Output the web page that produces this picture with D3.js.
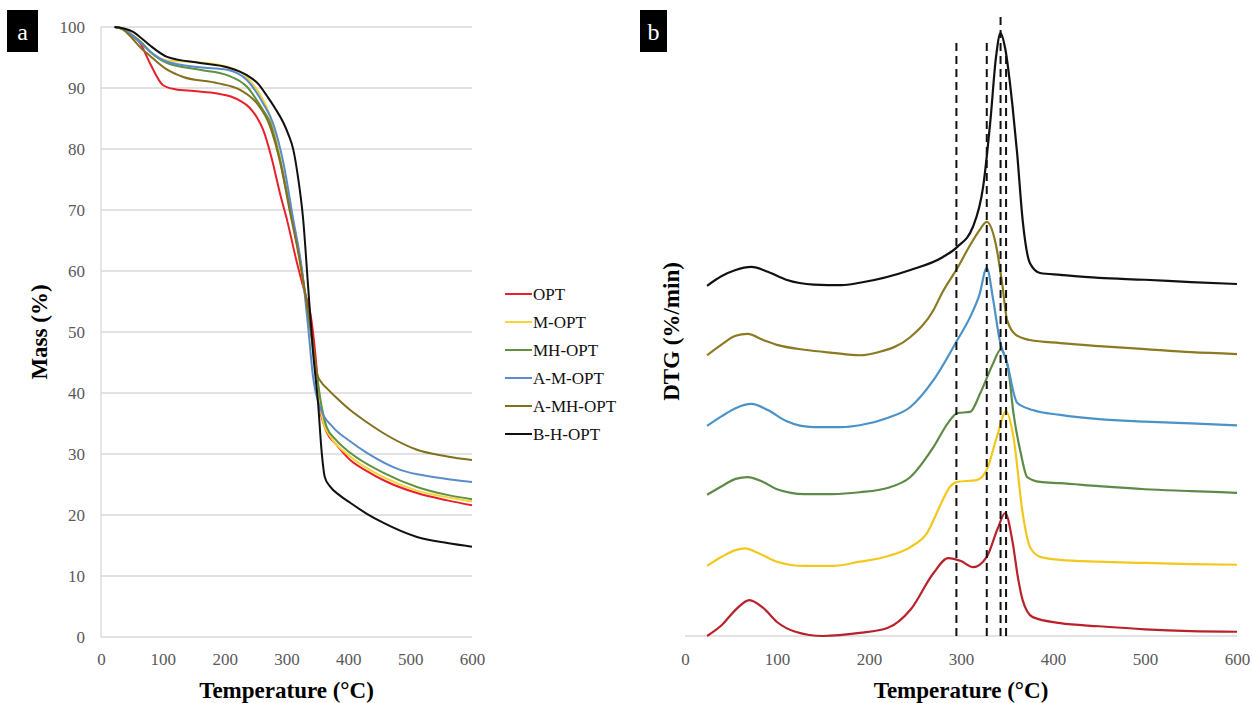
<!DOCTYPE html>
<html>
<head>
<meta charset="utf-8">
<script src="https://cdn.jsdelivr.net/npm/d3@7"></script>
<style>
  body { margin: 0; background: #fff; }
  svg { display: block; font-family: "Liberation Serif", "Times New Roman", serif; }
</style>
</head>
<body>
<div id="chart"></div>
<script>
// series names and colours
const seriesNames = ['OPT', 'M-OPT', 'MH-OPT', 'A-M-OPT', 'A-MH-OPT', 'B-H-OPT'];
const tgaColors = ['#e8202a', '#f7d43a', '#5f9140', '#5a8ccc', '#83701e', '#111111'];
const dtgColors = ['#b8222a', '#f2c81c', '#5e8a48', '#4a92c8', '#8b7a22', '#111111'];

const xTicks = [0, 100, 200, 300, 400, 500, 600];
const massTicks = [0, 10, 20, 30, 40, 50, 60, 70, 80, 90, 100];

// TGA: [temperature °C, mass %]
const tgaOPT = [[22,100],[35,99.7],[50,98.6],[63,97.4],[79,94.1],[100,90.5],[120,89.8],[150,89.5],[188,89.1],[210,88.6],[225,87.9],[240,86.8],[252,85.2],[262,83.2],[276,78.5],[290,72.5],[301,68.3],[317,61.3],[327,57.4],[341,51.5],[349,43.8],[354,37.5],[360,35.0],[365,33.6],[380,31.6],[403,29.0],[430,27.2],[457,25.7],[511,23.6],[560,22.4],[600,21.6]];
const tgaMOPT = [[22,100],[35,99.7],[50,98.8],[65,97.5],[84,95.6],[107,94.5],[160,94.2],[204,93.5],[236,91.8],[255,89.3],[265,87.5],[273,85.5],[290,78.5],[306,70.5],[322,61.5],[335,52.5],[346,44.5],[354,38.0],[360,35.0],[370,33.0],[403,29.6],[457,26.2],[511,24.0],[560,22.9],[600,22.2]];
const tgaMHOPT = [[22,100],[35,99.7],[50,98.7],[65,97.5],[79,96.0],[107,94.1],[160,93.0],[204,92.1],[236,90.2],[262,86.4],[273,84.5],[290,78.0],[306,70.0],[322,61.8],[335,53.1],[346,45.4],[357,37.7],[365,34.4],[380,32.3],[403,30.2],[457,26.9],[511,24.6],[560,23.3],[600,22.6]];
const tgaAMOPT = [[22,100],[35,99.7],[50,98.7],[65,97.3],[84,95.6],[107,94.3],[160,93.4],[204,93.0],[236,91.3],[262,87.5],[279,84.0],[295,77.7],[311,68.4],[325,60.2],[335,50.8],[343,42.6],[354,37.7],[375,34.4],[400,32.3],[430,30.2],[484,27.4],[540,26.2],[600,25.4]];
const tgaAMHOPT = [[22,100],[35,99.6],[50,98.2],[65,96.5],[79,95.3],[107,93.0],[133,91.8],[188,90.8],[225,89.7],[252,87.5],[273,83.8],[290,77.7],[306,69.5],[319,63.0],[330,56.4],[341,49.2],[349,43.3],[356,41.8],[365,40.8],[380,39.3],[403,37.2],[430,35.2],[457,33.4],[511,30.7],[560,29.6],[600,29.0]];
const tgaBHOPT = [[22,100],[35,99.8],[52,99.2],[65,98.2],[79,97.0],[107,95.1],[160,94.1],[204,93.4],[236,92.1],[255,90.6],[269,88.6],[282,86.6],[295,84.3],[303,82.4],[311,79.9],[318,75.8],[327,68.4],[335,57.4],[343,46.6],[351,38.4],[357,30.2],[362,26.2],[371,24.6],[385,23.3],[403,22.0],[430,20.2],[457,18.7],[511,16.4],[560,15.4],[600,14.8]];

// DTG (stacked, arbitrary units): [temperature °C, offset signal]
const dtgOPT = [[24,0],[40,1.8],[55,4.3],[70,5.9],[85,4.6],[100,2.3],[120,0.7],[150,0],[190,0.5],[220,1.3],[245,4.3],[270,10.3],[286,12.8],[300,12.3],[313,11.3],[328,13.0],[340,17.7],[348,20.2],[356,15.5],[362,9.5],[367,5.9],[378,3.1],[408,2.1],[450,1.6],[500,1.1],[550,0.8],[600,0.7]];
const dtgMOPT = [[24,11.5],[40,13.0],[55,14.1],[65,14.4],[80,13.6],[100,12.2],[130,11.5],[160,11.5],[190,12.2],[220,13.1],[245,14.6],[263,16.9],[280,22.3],[288,24.5],[296,25.3],[317,25.6],[328,27.3],[339,32.7],[349,36.9],[357,32.7],[367,20.2],[375,14.6],[386,13.0],[408,12.5],[450,12.2],[500,12.0],[550,11.8],[600,11.7]];
const dtgMHOPT = [[24,23.2],[40,24.6],[55,25.8],[68,26.1],[85,25.3],[100,24.1],[130,23.3],[160,23.3],[190,23.6],[220,24.3],[245,26.1],[270,31.0],[286,35.0],[296,36.6],[310,36.8],[321,39.9],[335,44.8],[343,47.0],[351,44.2],[357,36.6],[365,30.0],[372,26.1],[386,25.3],[408,25.1],[450,24.6],[500,24.1],[550,23.8],[600,23.5]];
const dtgAMOPT = [[24,34.5],[40,36.1],[55,37.4],[72,38.1],[90,37.1],[110,35.3],[140,34.3],[170,34.3],[190,34.6],[220,35.8],[245,37.6],[270,42.0],[296,48.6],[310,52.4],[320,56.0],[328,60.4],[335,55.2],[342,48.6],[350,44.8],[361,38.3],[378,37.1],[408,36.3],[450,35.6],[500,35.2],[550,34.9],[600,34.6]];
const dtgAMHOPT = [[24,46.1],[40,47.9],[55,49.3],[68,49.6],[85,48.6],[100,47.8],[130,47.0],[160,46.5],[190,46.1],[210,46.6],[245,49.1],[270,53.5],[280,56.5],[296,60.4],[310,64.2],[320,66.6],[328,68.0],[338,64.2],[345,57.6],[350,51.9],[360,49.4],[375,48.6],[408,48.1],[450,47.6],[500,47.1],[550,46.6],[600,46.3]];
const dtgBHOPT = [[24,57.5],[40,59.1],[55,60.1],[72,60.6],[90,59.8],[110,58.5],[140,57.7],[170,57.6],[190,58.0],[245,60.1],[280,62.2],[296,63.9],[313,67.2],[324,73.7],[332,84.7],[338,95.0],[343,99.0],[348,96.5],[356,87.0],[361,79.3],[367,68.3],[375,61.2],[386,59.6],[408,59.3],[450,58.8],[500,58.5],[550,58.1],[600,57.8]];

// dashed reference lines (peak temperatures) and their top ends
const peakTemps = [295, 328, 343, 349];
const peakTops = [97.5, 97.5, 102, 96];

const tgaData = [tgaOPT, tgaMOPT, tgaMHOPT, tgaAMOPT, tgaAMHOPT, tgaBHOPT];
const dtgData = [dtgOPT, dtgMOPT, dtgMHOPT, dtgAMOPT, dtgAMHOPT, dtgBHOPT];

const width = 1252, height = 703;
const svg = d3.select("#chart").append("svg")
  .attr("width", width)
  .attr("height", height);

const tickColor = "#595959";
const gridColor = "#d9d9d9";

// ---------- panel a: TGA ----------
const xa = d3.scaleLinear().domain([0, 600]).range([101, 472]);
const ya = d3.scaleLinear().domain([0, 100]).range([637, 27]);

const gA = svg.append("g");

gA.selectAll(".grid")
  .data(massTicks)
  .enter().append("line")
  .attr("x1", xa(0))
  .attr("x2", xa(600))
  .attr("y1", d => ya(d))
  .attr("y2", d => ya(d))
  .style("stroke", gridColor)
  .style("stroke-width", 1.3);

gA.append("line")
  .attr("x1", xa(0)).attr("x2", xa(0))
  .attr("y1", ya(0)).attr("y2", ya(100))
  .style("stroke", gridColor)
  .style("stroke-width", 1.3);

const xAxisA = gA.append("g")
  .attr("transform", `translate(0,${ya(0)})`)
  .call(d3.axisBottom(xa).tickValues(xTicks).tickSize(0).tickPadding(16));
const yAxisA = gA.append("g")
  .attr("transform", `translate(${xa(0)},0)`)
  .call(d3.axisLeft(ya).tickValues(massTicks).tickSize(0).tickPadding(16));

[xAxisA, yAxisA].forEach(ax => {
  ax.select(".domain").remove();
  ax.selectAll("text")
    .style("font-family", "Liberation Serif, serif")
    .style("font-size", "17px")
    .style("fill", tickColor);
});

const lineA = d3.line()
  .x(d => xa(d[0]))
  .y(d => ya(d[1]))
  .curve(d3.curveMonotoneX);

tgaData.forEach((series, i) => {
  gA.append("path")
    .datum(series)
    .attr("d", lineA)
    .style("fill", "none")
    .style("stroke", tgaColors[i])
    .style("stroke-width", 2);
});

gA.append("text")
  .attr("x", (xa(0) + xa(600)) / 2)
  .attr("y", 698)
  .attr("text-anchor", "middle")
  .style("font-size", "23px")
  .style("font-weight", "bold")
  .text("Temperature (°C)");

gA.append("text")
  .attr("transform", `translate(47,${ya(50)}) rotate(-90)`)
  .attr("text-anchor", "middle")
  .style("font-size", "23px")
  .style("font-weight", "bold")
  .text("Mass (%)");

// legend
const legend = gA.append("g");
seriesNames.forEach((name, i) => {
  const row = legend.append("g")
    .attr("transform", `translate(505,${294 + i * 28})`);
  row.append("line")
    .attr("x1", 0).attr("x2", 27)
    .style("stroke", tgaColors[i])
    .style("stroke-width", 2);
  row.append("text")
    .attr("x", 28)
    .attr("y", 6)
    .style("font-size", "17px")
    .style("fill", "#111")
    .text(name);
});

// ---------- panel b: DTG ----------
const xb = d3.scaleLinear().domain([0, 600]).range([685, 1237]);
const yb = d3.scaleLinear().domain([0, 100]).range([636, 27]);

const gB = svg.append("g");

gB.append("line")
  .attr("x1", xb(0)).attr("x2", xb(600))
  .attr("y1", yb(0)).attr("y2", yb(0))
  .style("stroke", gridColor)
  .style("stroke-width", 1.3);

const xAxisB = gB.append("g")
  .attr("transform", `translate(0,${yb(0)})`)
  .call(d3.axisBottom(xb).tickValues(xTicks).tickSize(0).tickPadding(17));
xAxisB.select(".domain").remove();
xAxisB.selectAll("text")
  .style("font-family", "Liberation Serif, serif")
  .style("font-size", "17px")
  .style("fill", tickColor);

const lineB = d3.line()
  .x(d => xb(d[0]))
  .y(d => yb(d[1]))
  .curve(d3.curveMonotoneX);

dtgData.forEach((series, i) => {
  gB.append("path")
    .datum(series)
    .attr("d", lineB)
    .style("fill", "none")
    .style("stroke", dtgColors[i])
    .style("stroke-width", 2.2);
});

gB.selectAll(".peak")
  .data(peakTemps)
  .enter().append("line")
  .attr("x1", d => xb(d))
  .attr("x2", d => xb(d))
  .attr("y1", yb(0))
  .attr("y2", (d, i) => yb(peakTops[i]))
  .style("stroke", "#111")
  .style("stroke-width", 2)
  .style("stroke-dasharray", "8,5");

gB.append("text")
  .attr("x", (xb(0) + xb(600)) / 2)
  .attr("y", 698)
  .attr("text-anchor", "middle")
  .style("font-size", "23px")
  .style("font-weight", "bold")
  .text("Temperature (°C)");

gB.append("text")
  .attr("transform", `translate(679,${yb(50)}) rotate(-90)`)
  .attr("text-anchor", "middle")
  .style("font-size", "23px")
  .style("font-weight", "bold")
  .text("DTG (%/min)");

// panel letters
[{ t: "a", x: 7, w: 31 }, { t: "b", x: 640, w: 27 }].forEach(p => {
  svg.append("rect")
    .attr("x", p.x).attr("y", 10)
    .attr("width", p.w).attr("height", 42)
    .style("fill", "#000");
  svg.append("text")
    .attr("x", p.x + p.w / 2)
    .attr("y", 40)
    .attr("text-anchor", "middle")
    .style("font-size", "24px")
    .style("fill", "#fff")
    .text(p.t);
});
</script>
</body>
</html>
